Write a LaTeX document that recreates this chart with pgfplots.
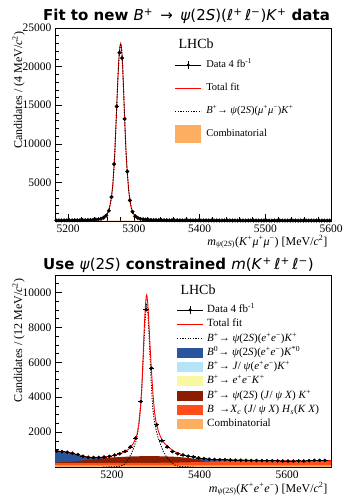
\documentclass[border=0pt]{standalone}
\usepackage{fontspec}
\setmainfont{Liberation Serif}
\newfontfamily\djv{DejaVu Sans}
\usepackage{pgfplots}
\pgfplotsset{compat=1.18}
\definecolor{cblue}{RGB}{40,85,155}
\definecolor{clblue}{RGB}{180,228,246}
\definecolor{cyellow}{RGB}{248,248,160}
\definecolor{cbrown}{RGB}{139,30,0}
\definecolor{corange}{RGB}{255,77,26}
\definecolor{ccomb}{RGB}{253,174,97}
\newcommand{\ti}[1]{\textit{#1}}
\newcommand{\su}[1]{\textsuperscript{#1}}
\pgfplotsset{
  lhcb/.style={
    scale only axis, width=276pt,
    axis line style={line width=0.6pt},
    tick align=inside, xtick pos=bottom, ytick pos=left,
    major tick length=7pt, minor tick length=3.5pt,
    tick style={line width=0.5pt, black},
    scaled ticks=false,
    /pgf/number format/1000 sep={},
    /pgf/number format/assume math mode=true,
    tick label style={font=\fontsize{11.5}{12}\selectfont},
    every axis y label/.style={at={(axis description cs:-0.167,1)}, anchor=north east, rotate=90, font=\fontsize{12}{14}\selectfont},
    every axis x label/.style={at={(axis description cs:1,0)}, anchor=north east, yshift=-11pt, font=\fontsize{12}{14}\selectfont},
    legend cell align=left,
    clip=true,
  },
  dataimg/.style={legend image code/.code={
      \path[draw=none,fill=none] (0pt,-3pt) rectangle (26pt,3pt);
      \draw[black,fill=none,line width=0.6pt,overlay] (0pt,0pt) -- (26pt,0pt);
      \draw[black,fill=none,line width=0.6pt,overlay] (13pt,-4pt) -- (13pt,4pt);
      \fill[black,draw=none,overlay] (13pt,0pt) circle (1.7pt);}},
  lineimg/.style={legend image code/.code={
      \path[draw=none,fill=none] (0pt,-3pt) rectangle (26pt,3pt);
      \draw[fill=none,#1,overlay] (0pt,0pt) -- (26pt,0pt);}},
  boximg/.style 2 args={legend image code/.code={
      \path[draw=none,fill=none] (0pt,-3pt) rectangle (26pt,3pt);
      \fill[#1,draw=none,overlay] (0pt,-#2) rectangle (26pt,#2);}},
}
\begin{document}
\begin{tikzpicture}
\useasboundingbox (0pt,0pt) rectangle (358pt,497pt);
% ---------------- top panel ----------------
\begin{axis}[lhcb, at={(55pt,276pt)}, anchor=south west, height=193pt,
  xmin=5180, xmax=5600, ymin=0, ymax=25000,
  xtick={5200,5300,5400,5500,5600},
  minor xtick={5180,5200,...,5600},
  ytick={0,5000,10000,15000,20000,25000},
  yticklabels={,5000,10000,15000,20000,25000},
  minor ytick={1000,2000,...,25000},
  xlabel={\ti{m}\textsubscript{\ti{ψ}(2\ti{S})}(\ti{K}\su{+}\ti{μ}\su{+}\ti{μ}\su{−}) [MeV/\ti{c}\su{2}]},
  ylabel={Candidates / (4 MeV/\ti{c}\su{2})},
  legend style={draw=none, fill=none, at={(axis description cs:0.435,0.835)}, anchor=north west,
    font=\fontsize{10.5}{12}\selectfont, row sep=13pt, inner sep=0pt, column sep=5pt,
    nodes={inner sep=0pt, text height=7.5pt, text depth=2.5pt}},
]
\addlegendimage{dataimg}\addlegendentry{Data 4 fb\su{-1}}
\addlegendimage{lineimg={red,line width=0.9pt}}\addlegendentry{Total fit}
\addlegendimage{lineimg={black,line width=0.9pt,dash pattern=on 1.2pt off 1.4pt}}\addlegendentry{\ti{B}\su{+}→ \ti{ψ}(2\ti{S})(\ti{μ}\su{+}\ti{μ}\su{−})\ti{K}\su{+}}
\addlegendimage{boximg={ccomb}{9pt}}\addlegendentry{Combinatorial}
% combinatorial
\addplot[fill=ccomb, draw=none, forget plot] coordinates {(5180,50) (5300,50) (5450,48) (5600,45)} \closedcycle;
% total fit
\addplot[red, line width=0.9pt, forget plot] coordinates {
(5180,65) (5200,75) (5220,95) (5230,115) (5240,160) (5245,210) (5250,300) (5254,430)
(5256,560) (5258,750) (5260,1050) (5262,1450) (5264,2150) (5266,3150) (5268,4700)
(5270,7300) (5271,8900) (5272,10900) (5273,12900) (5274,15000) (5275,17100) (5276,19000)
(5277,20700) (5278,21900) (5279,22700) (5280,23000) (5281,22600) (5282,21500) (5283,19900)
(5284,17800) (5285,15500) (5286,13300) (5287,11100) (5288,9100) (5289,7600) (5290,6300)
(5292,4100) (5294,2700) (5296,1750) (5298,1200) (5300,850) (5303,550) (5306,400) (5310,280)
(5315,200) (5320,160) (5330,120) (5350,95) (5400,80) (5500,70) (5600,65)};
% signal
\addplot[black, line width=0.9pt, dash pattern=on 1.2pt off 1.4pt, forget plot] coordinates {
(5180,15) (5200,25) (5220,45) (5230,65) (5240,110) (5245,160) (5250,250) (5254,380)
(5256,510) (5258,700) (5260,1000) (5262,1400) (5264,2100) (5266,3100) (5268,4650)
(5270,7250) (5271,8850) (5272,10850) (5273,12850) (5274,14950) (5275,17050) (5276,18950)
(5277,20650) (5278,21850) (5279,22650) (5280,22950) (5281,22550) (5282,21450) (5283,19850)
(5284,17750) (5285,15450) (5286,13250) (5287,11050) (5288,9050) (5289,7550) (5290,6250)
(5292,4050) (5294,2650) (5296,1700) (5298,1150) (5300,800) (5303,500) (5306,350) (5310,230)
(5315,150) (5320,110) (5330,70) (5350,45) (5400,32) (5500,22) (5600,20)};
% data
\addplot[only marks, mark=*, mark size=1.8pt, black, forget plot] table {
x y
5182 75
5186 80
5190 70
5194 85
5198 80
5202 90
5206 85
5210 95
5214 90
5218 100
5222 110
5226 115
5230 125
5234 140
5238 160
5242 185
5246 230
5250 300
5254 430
5258 720
5262 1330
5266 3100
5270 7370
5274 14830
5278 21800
5282 21100
5286 13230
5290 6400
5294 2670
5298 1200
5302 620
5306 400
5310 280
5314 220
5318 180
5322 160
5326 140
5330 125
5334 120
5338 110
5342 105
5346 100
5350 95
5354 90
5358 95
5362 85
5366 90
5370 80
5374 85
5378 80
5382 85
5386 75
5390 80
5394 75
5398 80
5402 70
5406 75
5410 80
5414 70
5418 75
5422 70
5426 75
5430 65
5434 70
5438 75
5442 65
5446 70
5450 65
5454 70
5458 60
5462 70
5466 65
5470 60
5474 65
5478 70
5482 60
5486 65
5490 60
5494 65
5498 60
5502 65
5506 55
5510 60
5514 65
5518 55
5522 60
5526 65
5530 55
5534 60
5538 55
5542 60
5546 65
5550 55
5554 60
5558 55
5562 60
5566 55
5570 60
5574 55
5578 60
5582 55
5586 60
5590 55
5594 60
5598 55
};
\node[anchor=base west, font=\fontsize{14}{16}\selectfont] at (axis description cs:0.435,0.896) {LHCb};
\end{axis}
% ---------------- bottom panel ----------------
\begin{axis}[lhcb, at={(55pt,30pt)}, anchor=south west, height=192pt,
  xmin=5070, xmax=5700, ymin=0, ymax=11000,
  xtick={5200,5400,5600},
  minor xtick={5100,5150,...,5700},
  ytick={0,2000,4000,6000,8000,10000},
  yticklabels={,2000,4000,6000,8000,10000},
  minor ytick={500,1000,...,11000},
  xlabel={\ti{m}\textsubscript{\ti{ψ}(2\ti{S})}(\ti{K}\su{+}\ti{e}\su{+}\ti{e}\su{−}) [MeV/\ti{c}\su{2}]},
  every axis x label/.append style={yshift=-1pt},
  ylabel={Candidates / (12 MeV/\ti{c}\su{2})},
  legend style={draw=none, fill=none, at={(axis description cs:0.442,0.845)}, anchor=north west,
    font=\fontsize{11}{12}\selectfont, row sep=4.3pt, inner sep=0pt, column sep=4pt,
    nodes={inner sep=0pt, text height=7.5pt, text depth=2.5pt}},
]
\addlegendimage{dataimg}\addlegendentry{Data 4 fb\su{-1}}
\addlegendimage{lineimg={red,line width=0.9pt}}\addlegendentry{Total fit}
\addlegendimage{lineimg={black,line width=0.9pt,dash pattern=on 1.2pt off 1.4pt}}\addlegendentry{\ti{B}\su{+}→ \ti{ψ}(2\ti{S})(\ti{e}\su{+}\ti{e}\su{−})\ti{K}\su{+}}
\addlegendimage{boximg={cblue}{5pt}}\addlegendentry{\ti{B}\su{0}→ \ti{ψ}(2\ti{S})(\ti{e}\su{+}\ti{e}\su{−})\ti{K}\su{*0}}
\addlegendimage{boximg={clblue}{5pt}}\addlegendentry{\ti{B}\su{+}→ \ti{J}/ \ti{ψ}(\ti{e}\su{+}\ti{e}\su{−})\ti{K}\su{+}}
\addlegendimage{boximg={cyellow}{5pt}}\addlegendentry{\ti{B}\su{+}→ \ti{e}\su{+}\ti{e}\su{−}\ti{K}\su{+}}
\addlegendimage{boximg={cbrown}{5pt}}\addlegendentry{\ti{B}\su{+}→ \ti{ψ}(2\ti{S}) (\ti{J}/ \ti{ψ} \ti{X}) \ti{K}\su{+}}
\addlegendimage{boximg={corange}{5pt}}\addlegendentry{\ti{B} \ →\ti{X}\textsubscript{\ti{c}} (\ti{J}/ \ti{ψ} \ti{X}) \ti{H}\textsubscript{\ti{s}}(\ti{K} \ti{X})}
\addlegendimage{boximg={ccomb}{5pt}}\addlegendentry{Combinatorial}
% B0 -> psi(2S) K*0 (cumulative top)
\addplot[fill=cblue, draw=none, forget plot] coordinates {
(5070,935) (5080,905) (5090,880) (5100,850) (5110,785) (5120,712) (5130,640) (5140,585)
(5150,550) (5160,530) (5170,520) (5180,520) (5190,530) (5200,540) (5210,555) (5220,572) (5700,305)} \closedcycle;
% B+ -> psi(2S)(J/psi X) K+ (cumulative top)
\addplot[fill=cbrown, draw=none, forget plot] coordinates {
(5070,260) (5080,270) (5090,285) (5100,300) (5110,320) (5120,340) (5130,365) (5140,390)
(5150,415) (5160,440) (5170,465) (5180,490) (5190,515) (5200,535) (5210,555) (5220,572)
(5240,600) (5260,615) (5280,622) (5300,620) (5320,610) (5340,590) (5360,555) (5380,500)
(5395,430) (5405,360) (5420,325) (5440,330) (5500,345) (5600,330) (5700,340)} \closedcycle;
% B -> Xc ... (cumulative top)
\addplot[fill=corange, draw=none, forget plot] coordinates {
(5070,220) (5100,222) (5150,227) (5200,232) (5250,236) (5300,240) (5360,260) (5400,285)
(5420,310) (5440,330) (5500,345) (5600,330) (5700,340)} \closedcycle;
% combinatorial
\addplot[fill=ccomb, draw=none, forget plot] coordinates {
(5070,100) (5300,100) (5500,100) (5700,100)} \closedcycle;
% signal
\addplot[black, line width=0.9pt, dash pattern=on 1.2pt off 1.4pt, forget plot] coordinates {
(5180,0) (5200,5) (5215,30) (5226,110) (5232,250) (5238,470) (5244,750) (5249,1050)
(5254,1400) (5257,1700) (5260,2200) (5263,2900) (5266,3600) (5268,4400) (5270,5400)
(5272,6500) (5274,7600) (5276,8500) (5278,9150) (5279,9300) (5280,9250) (5282,8800)
(5284,7900) (5286,6800) (5288,5700) (5290,4700) (5292,3800) (5294,3150) (5297,2600)
(5300,2200) (5305,1700) (5310,1350) (5317,900) (5324,600) (5329,450) (5336,250)
(5344,100) (5355,30) (5370,5) (5390,0)};
% total fit
\addplot[red, line width=0.9pt, forget plot] coordinates {
(5070,935) (5080,905) (5090,880) (5100,850) (5110,790) (5120,720) (5130,650) (5140,595)
(5150,560) (5160,548) (5170,552) (5180,570) (5190,600) (5200,640) (5210,695) (5220,770)
(5230,880) (5240,1060) (5248,1320) (5254,1620) (5258,1950) (5262,2550) (5265,3350)
(5268,4500) (5270,5600) (5272,6900) (5274,8100) (5276,9100) (5278,9750) (5279,9850)
(5280,9780) (5282,9300) (5284,8400) (5286,7400) (5288,6450) (5290,5600) (5292,4800)
(5294,4050) (5297,3200) (5300,2650) (5303,2350) (5306,2050) (5310,1780) (5315,1520)
(5320,1350) (5330,1120) (5340,930) (5350,800) (5360,710) (5370,640) (5380,590) (5390,540)
(5400,495) (5420,445) (5440,415) (5460,400) (5480,390) (5500,380) (5540,365) (5580,355)
(5620,350) (5660,358) (5700,368)};
% data
\addplot[only marks, mark=*, mark size=1.6pt, black, forget plot,
  error bars/.cd, x dir=both, x explicit, y dir=both, y explicit,
  error bar style={line width=0.8pt, black}, error mark=none]
  table[x=x, y=y, x error=ex, y error=ey] {
x y ex ey
5074 910 6 30
5086 880 6 30
5098 850 6 29
5110 790 6 28
5122 710 6 27
5134 620 6 25
5146 560 6 24
5158 540 6 23
5170 545 6 23
5182 570 6 24
5194 610 6 25
5206 680 6 26
5218 760 6 28
5230 900 6 30
5242 1150 6 34
5254 1660 6 41
5266 3750 6 61
5278 9010 6 95
5290 5660 6 75
5302 2420 6 49
5314 1500 6 39
5326 1150 6 34
5338 880 6 30
5350 760 6 28
5362 690 6 26
5374 620 6 25
5386 580 6 24
5398 520 6 23
5410 480 6 22
5422 450 6 21
5434 430 6 21
5446 420 6 20
5458 410 6 20
5470 400 6 20
5482 390 6 20
5494 385 6 20
5506 380 6 19
5518 375 6 19
5530 370 6 19
5542 365 6 19
5554 360 6 19
5566 355 6 19
5578 350 6 19
5590 345 6 19
5602 345 6 19
5614 340 6 18
5626 350 6 19
5638 345 6 19
5650 360 6 19
5662 380 6 19
5674 375 6 19
5686 380 6 19
};
\node[anchor=base west, font=\fontsize{14}{16}\selectfont] at (axis description cs:0.442,0.896) {LHCb};
\end{axis}
% titles
\node[anchor=base west, inner sep=0pt, font=\djv\fontsize{15}{18}\selectfont] at (43pt,476.5pt)
  {\textbf{Fit to new }\textit{B}\textsuperscript{+}\ \,→\ \,\textit{ψ}(2\textit{S})(\textit{ℓ}\textsuperscript{+}\,\textit{ℓ}\textsuperscript{−})\textit{K}\textsuperscript{+}\textbf{ data}};
\node[anchor=base west, inner sep=0pt, font=\djv\fontsize{15}{18}\selectfont] at (43pt,227pt)
  {\textbf{Use }\textit{ψ}(2\textit{S})\textbf{ constrained }\textit{m}(\textit{K}\textsuperscript{+}\,\textit{ℓ}\textsuperscript{+}\,\textit{ℓ}\textsuperscript{−})};
\end{tikzpicture}
\end{document}
